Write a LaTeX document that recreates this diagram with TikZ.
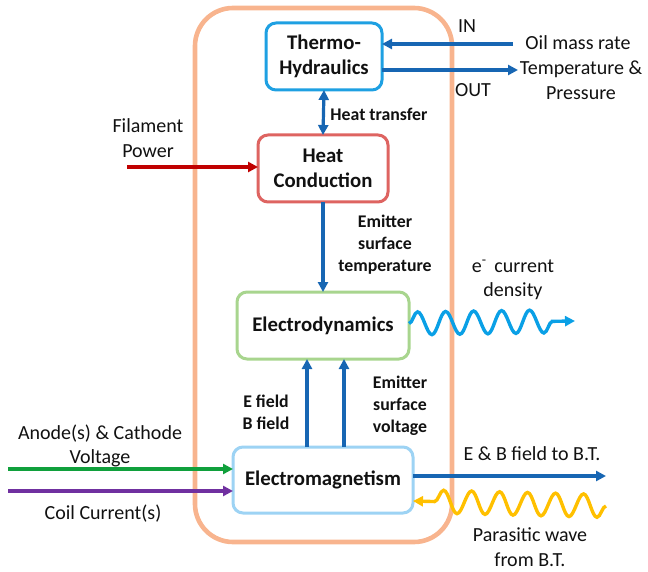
\documentclass[tikz,border=0pt]{standalone}
\usepackage{fontspec}
\setmainfont{Carlito}
\usetikzlibrary{arrows.meta,decorations.pathmorphing}
\definecolor{orangebox}{HTML}{F8B48E}
\definecolor{thblue}{HTML}{1EA0E2}
\definecolor{hcred}{HTML}{DE6461}
\definecolor{edgreen}{HTML}{A8D58E}
\definecolor{emblue}{HTML}{9DD3F4}
\definecolor{arrblue}{HTML}{1766B3}
\definecolor{arrred}{HTML}{C00000}
\definecolor{arrgreen}{HTML}{10A03C}
\definecolor{arrpurple}{HTML}{7030A0}
\definecolor{wavecyan}{HTML}{0AA0E6}
\definecolor{waveyellow}{HTML}{FFC000}
\definecolor{txt}{HTML}{111111}
\tikzset{
  box/.style={draw, line width=3pt, rounded corners=10pt, fill=white, text=txt,
    font=\fontsize{20.8}{24.5}\selectfont\bfseries, align=center, inner sep=0pt, outer sep=0pt},
  lbl/.style={text=txt, font=\fontsize{20}{24.5}\selectfont, align=center, inner sep=0pt},
  blbl/.style={text=txt, font=\fontsize{17.8}{22}\selectfont\bfseries, align=center, inner sep=0pt},
  conn/.style={line width=3.2pt, -{Triangle[length=10pt,width=10pt]}},
  wavy/.style={line width=3.4pt, decorate, -{Triangle[length=10pt,width=10pt]},
    decoration={snake, amplitude=11.5pt, segment length=28pt, post length=10pt}}
}
\begin{document}
\begin{tikzpicture}[x=1pt,y=-1pt]
\useasboundingbox (0,0) rectangle (648,572);
% outer frame
\draw[orangebox, line width=4.6pt, rounded corners=38pt] (195,8) rectangle (452,542);
% boxes
\node[box, draw=thblue, minimum width=116pt, minimum height=67pt] (th) at (324,56.5) {Thermo-\\Hydraulics};
\node[box, draw=hcred, minimum width=130pt, minimum height=67pt] (hc) at (323,168.5) {Heat\\Conduction};
\node[box, draw=edgreen, minimum width=172pt, minimum height=67pt] (ed) at (323,325.5) {Electrodynamics};
\node[box, draw=emblue, minimum width=180pt, minimum height=66pt] (em) at (323,480) {Electromagnetism};
% labels
\node[lbl] (inl) at (467,26) {IN};
\node[lbl] (outl) at (473,90) {OUT};
\node[lbl] (oil) at (578,43) {Oil mass rate};
\node[lbl] (tp) at (581,80) {Temperature \&\\Pressure};
\node[blbl] (ht) at (379,114) {Heat transfer};
\node[lbl] (fil) at (148,138) {Filament\\Power};
\node[blbl] (est) at (385,245) {Emitter\\surface\\temperature};
\node[lbl] (ecd) at (513,280) {e\textsuperscript{-}\, current\\density};
\node[blbl] (ebf) at (266,412) {E field\\B field};
\node[blbl] (esv) at (400,406) {Emitter\\surface\\voltage};
\node[lbl] (acv) at (100,446) {Anode(s) \& Cathode\\Voltage};
\node[lbl] (coil) at (103,514) {Coil Current(s)};
\node[lbl] (ebt) at (532,454) {E \& B field to B.T.};
\node[lbl] (pw) at (530,547) {Parasitic wave\\from B.T.};
% free ends
\coordinate (inS) at (513,44);
\coordinate (outE) at (518,70);
\coordinate (fpS) at (127,167);
\coordinate (edW) at (575,321);
\coordinate (gS) at (8,469);
\coordinate (pS) at (8,491);
\coordinate (ebE) at (606,476);
\coordinate (pwS) at (606,506);
% connectors
\draw[conn, arrblue] (inS) -- (th.east |- inS);
\draw[conn, arrblue] (th.east |- outE) -- (outE);
\draw[arrblue, line width=3.2pt, {Triangle[length=10pt,width=10pt]}-{Triangle[length=10pt,width=10pt]}] (th.south) -- (hc.north);
\draw[conn, arrred] (fpS) -- (hc.west |- fpS);
\draw[conn, arrblue] (hc.south) -- (ed.north);
\draw[wavy, wavecyan] ([yshift=2pt]ed.east) -- (edW);
\draw[conn, arrblue] ([xshift=-16pt]em.north) -- ([xshift=-16pt]ed.south);
\draw[conn, arrblue] ([xshift=21pt]em.north) -- ([xshift=21pt]ed.south);
\draw[conn, arrgreen] (gS) -- (em.west |- gS);
\draw[conn, arrpurple] (pS) -- (em.west |- pS);
\draw[conn, arrblue] (em.east |- ebE) -- (ebE);
\draw[wavy, waveyellow] (pwS) -- ([yshift=-21pt]em.east);
\end{tikzpicture}
\end{document}
